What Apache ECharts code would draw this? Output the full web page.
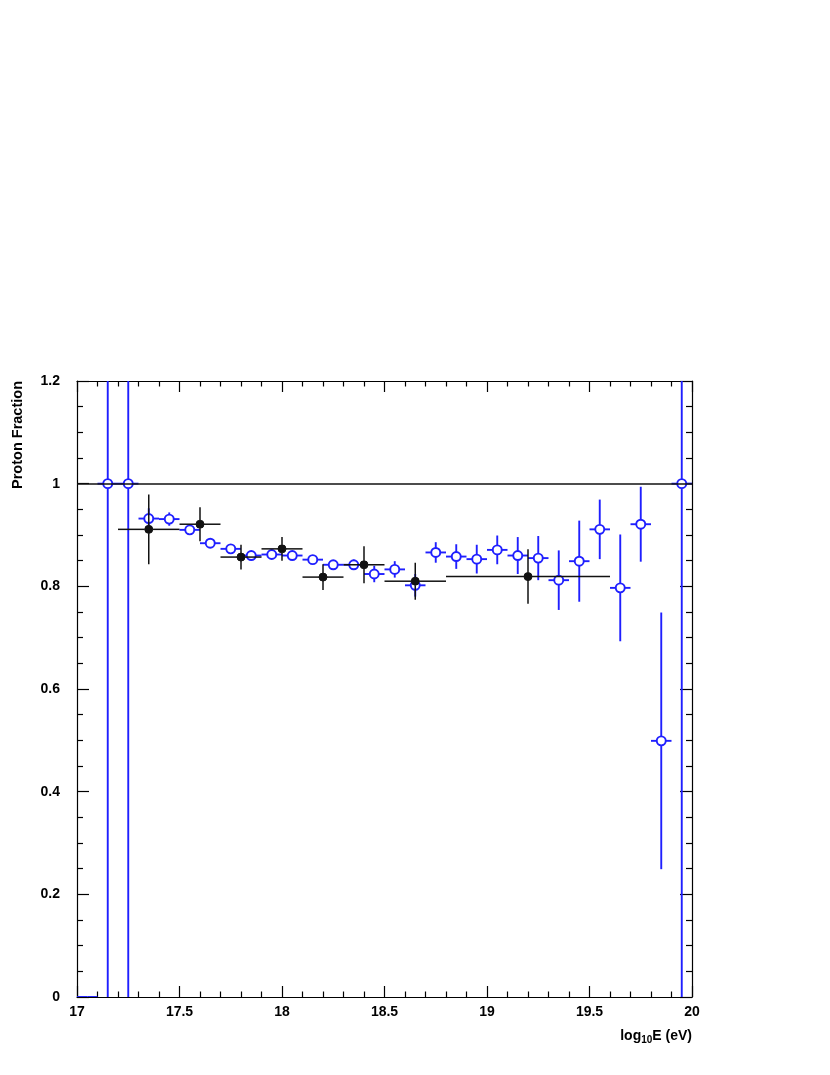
<!DOCTYPE html>
<html>
<head>
<meta charset="utf-8">
<script src="https://cdn.jsdelivr.net/npm/echarts@6/dist/echarts.min.js"></script>
<style>
  html, body { margin: 0; padding: 0; background: #fff; }
  #chart { width: 830px; height: 1075px; }
</style>
</head>
<body>
<div id="chart"></div>
<script>
  // open blue points (bin width 0.1)
  const blueX = [17.05, 17.15, 17.25, 17.35, 17.45, 17.55, 17.65, 17.75, 17.85, 17.95,
    18.05, 18.15, 18.25, 18.35, 18.45, 18.55, 18.65, 18.75, 18.85, 18.95,
    19.05, 19.15, 19.25, 19.35, 19.45, 19.55, 19.65, 19.75, 19.85, 19.95];
  const blueY = [0, 1, 1, 0.932, 0.931, 0.910, 0.884, 0.873, 0.860, 0.862,
    0.860, 0.852, 0.842, 0.842, 0.824, 0.833, 0.802, 0.866, 0.858, 0.853,
    0.871, 0.860, 0.855, 0.812, 0.849, 0.911, 0.797, 0.921, 0.499, 1];
  const blueYErr = [0, 2, 2, 0.02, 0.013, 0.008, 0.006, 0.006, 0.005, 0.006,
    0.006, 0.007, 0.008, 0.01, 0.016, 0.016, 0.022, 0.02, 0.024, 0.028,
    0.028, 0.036, 0.043, 0.058, 0.079, 0.058, 0.104, 0.073, 0.25, 2];
  const blueXErr = 0.05;

  // filled black points
  const blackX = [17.35, 17.6, 17.8, 18.0, 18.2, 18.4, 18.65, 19.2];
  const blackY = [0.911, 0.921, 0.857, 0.873, 0.818, 0.842, 0.810, 0.819];
  const blackXErr = [0.15, 0.1, 0.1, 0.1, 0.1, 0.1, 0.15, 0.4];
  const blackYErr = [0.068, 0.033, 0.024, 0.023, 0.025, 0.036, 0.036, 0.053];

  const xTicks = [17, 17.5, 18, 18.5, 19, 19.5, 20];
  const yTicks = [0, 0.2, 0.4, 0.6, 0.8, 1, 1.2];

  const BLUE = '#1f1fff';
  const BLACK = '#111';
  const FONT = '"Liberation Sans", Arial, sans-serif';

  const chart = echarts.init(document.getElementById('chart'));

  const makeRender = (color, filled, r, lw) => (params, api) => {
    const x = api.value(0), y = api.value(1), ex = api.value(2), ey = api.value(3);
    const c = api.coord([x, y]);
    const l = api.coord([x - ex, y]);
    const rt = api.coord([x + ex, y]);
    const t = api.coord([x, y + ey]);
    const b = api.coord([x, y - ey]);
    const ls = { stroke: color, lineWidth: lw };
    const children = [];
    const gap = y > 0 ? r : 0;
    if (c[0] - l[0] > gap) children.push({ type: 'line', shape: { x1: l[0], y1: c[1], x2: c[0] - gap, y2: c[1] }, style: ls });
    if (rt[0] - c[0] > gap) children.push({ type: 'line', shape: { x1: c[0] + gap, y1: c[1], x2: rt[0], y2: c[1] }, style: ls });
    if (c[1] - t[1] > gap) children.push({ type: 'line', shape: { x1: c[0], y1: t[1], x2: c[0], y2: c[1] - gap }, style: ls });
    if (b[1] - c[1] > gap) children.push({ type: 'line', shape: { x1: c[0], y1: c[1] + gap, x2: c[0], y2: b[1] }, style: ls });
    if (y > 0) {
      children.push({
        type: 'circle',
        shape: { cx: c[0], cy: c[1], r: r },
        style: { fill: filled ? color : '#fff', stroke: color, lineWidth: filled ? 1 : lw }
      });
    }
    return { type: 'group', children };
  };

  const blueData = blueX.map((x, i) => [x, blueY[i], blueXErr, blueYErr[i]]);
  const blackData = blackX.map((x, i) => [x, blackY[i], blackXErr[i], blackYErr[i]]);

  const axisLine = { show: true, onZero: false, lineStyle: { color: '#000', width: 1.2 } };
  const labelStyle = { color: '#000', fontFamily: FONT, fontWeight: 'bold', fontSize: 14 };

  const xBase = {
    type: 'value', min: 17, max: 20, interval: 0.5,
    axisLine,
    axisTick: { show: true, inside: true, length: 11, lineStyle: { color: '#000', width: 1.2 } },
    minorTick: { show: true, splitNumber: 5, length: 5.5, lineStyle: { color: '#000', width: 1.2 } },
    splitLine: { show: false }
  };
  const yBase = {
    type: 'value', min: 0, max: 1.2, interval: 0.2,
    axisLine,
    axisTick: { show: true, inside: true, length: 12, lineStyle: { color: '#000', width: 1.2 } },
    minorTick: { show: true, splitNumber: 4, length: 6, lineStyle: { color: '#000', width: 1.2 } },
    splitLine: { show: false }
  };

  const option = {
    animation: false,
    backgroundColor: '#fff',
    grid: { left: 77, right: 138, top: 381, bottom: 78 },
    xAxis: [
      Object.assign({}, xBase, {
        position: 'bottom',
        axisLabel: Object.assign({ margin: 8, formatter: v => (xTicks.includes(v) ? String(v) : '') }, labelStyle)
      }),
      Object.assign({}, xBase, { position: 'top', axisLabel: { show: false } })
    ],
    yAxis: [
      Object.assign({}, yBase, {
        position: 'left',
        axisLabel: Object.assign({ margin: 17, formatter: v => (yTicks.includes(+v.toFixed(2)) ? String(+v.toFixed(2)) : '') }, labelStyle)
      }),
      Object.assign({}, yBase, { position: 'right', axisLabel: { show: false } })
    ],
    series: [
      {
        type: 'line',
        data: [],
        markLine: {
          silent: true,
          symbol: 'none',
          label: { show: false },
          lineStyle: { color: BLACK, width: 1.6, type: 'solid' },
          data: [{ yAxis: 1 }]
        }
      },
      {
        type: 'custom',
        name: 'blue',
        clip: true,
        z: 3,
        data: blueData,
        encode: { x: 0, y: 1 },
        renderItem: makeRender(BLUE, false, 4.5, 1.9)
      },
      {
        type: 'custom',
        name: 'black',
        clip: true,
        z: 4,
        data: blackData,
        encode: { x: 0, y: 1 },
        renderItem: makeRender(BLACK, true, 4, 1.5)
      }
    ],
    graphic: [
      {
        type: 'text',
        x: 18, y: 381,
        rotation: Math.PI / 2,
        style: {
          text: 'Proton Fraction',
          align: 'right', verticalAlign: 'middle',
          fill: '#000', font: 'bold 14.5px ' + FONT
        }
      },
      {
        type: 'text',
        x: 692, y: 1036,
        style: {
          text: '{n|log}{s|10}{n|E (eV)}',
          align: 'right', verticalAlign: 'middle',
          fill: '#000',
          rich: {
            n: { fontSize: 14, fontWeight: 'bold', fontFamily: FONT, fill: '#000' },
            s: { fontSize: 10, fontWeight: 'bold', fontFamily: FONT, fill: '#000', padding: [8, 0, 0, 0] }
          }
        }
      }
    ]
  };

  chart.setOption(option);
</script>
</body>
</html>
